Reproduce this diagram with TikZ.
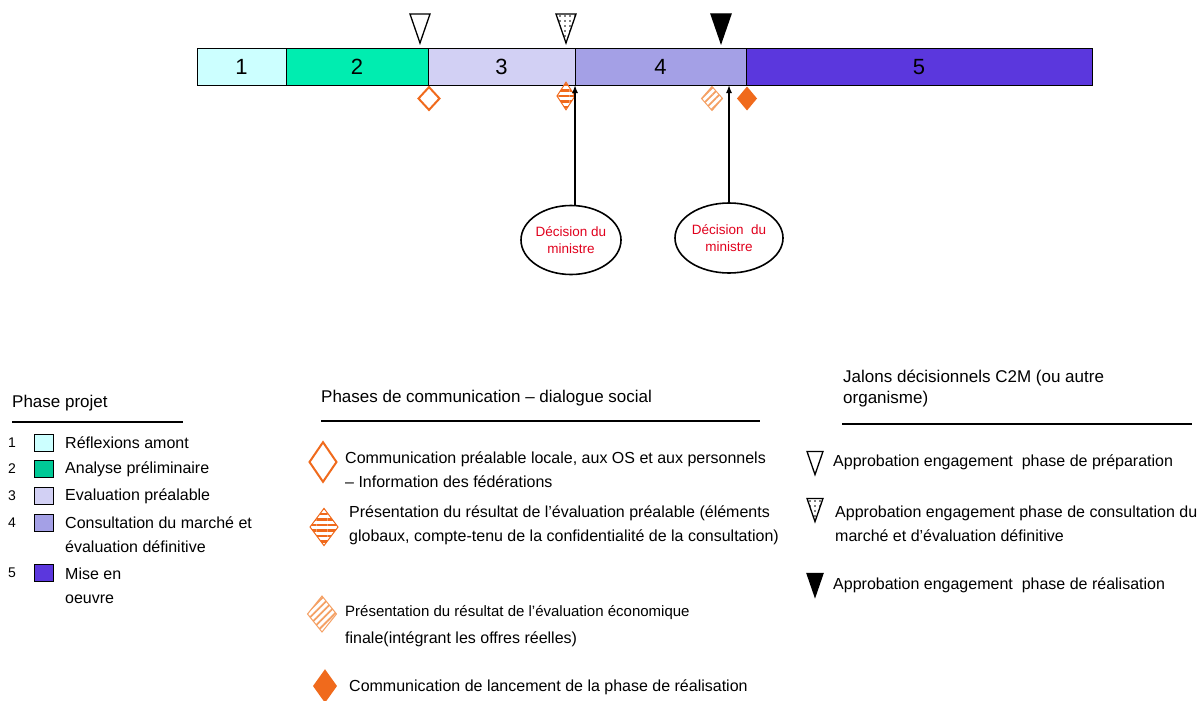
\documentclass[tikz,border=0pt]{standalone}
\usepackage{fontspec}
\setmainfont{Liberation Sans}
\usetikzlibrary{positioning,shapes.geometric,arrows.meta,patterns.meta}
\definecolor{phaseone}{HTML}{CCFFFF}
\definecolor{phasetwo}{HTML}{00EDB0}
\definecolor{phasethree}{HTML}{D2D0F4}
\definecolor{phasefour}{HTML}{A4A0E6}
\definecolor{phasefive}{HTML}{5B37DD}
\definecolor{comorange}{HTML}{F06A1C}
\definecolor{orangeclair}{HTML}{F4A064}
\definecolor{rouge}{HTML}{E0001C}
\begin{document}
\begin{tikzpicture}[x=1pt,y=1pt,
    phase/.style={draw, line width=1pt, minimum height=36, inner sep=0, outer sep=0,
      font=\fontsize{22}{22}\selectfont},
    decision/.style={ellipse, draw, line width=1.6pt, text=rouge, align=center,
      inner sep=0, font=\fontsize{13.5}{17}\selectfont},
    legbox/.style={draw, line width=1pt, minimum width=19, minimum height=17, inner sep=0},
    txt/.style={anchor=west, align=left, inner sep=0, font=\fontsize{16}{24}\selectfont},
    titre/.style={txt, font=\fontsize{17}{21}\selectfont},
    rule/.style={line width=1.5pt},
    fleche/.style={line width=1.5pt, -{Latex[length=8,width=6]}},
    losange/.pic={\path[pic actions] (0,12) -- (10,0) -- (0,-12) -- (-10,0) -- cycle;},
    jalon/.pic={\path[pic actions] (-10,14.5) -- (10,14.5) -- (0,-14.5) -- cycle;},
    vide/.style={draw=comorange, line width=2pt, fill=white},
    raye/.style={draw=comorange, line width=1pt, pattern color=comorange,
      pattern={Lines[angle=0,distance=5.5pt,line width=2.2pt]}},
    hachure/.style={draw=orangeclair, line width=1pt, pattern color=orangeclair,
      pattern={Lines[angle=45,distance=5pt,line width=1.8pt]}},
    plein/.style={fill=comorange},
    jvide/.style={draw, line width=1.3pt, fill=white},
    jpoint/.style={draw, line width=1.3pt,
      pattern={Dots[distance=5pt,radius=0.9pt]}},
    jplein/.style={draw, line width=1.3pt, fill=black}
  ]
  \useasboundingbox (0,0) rectangle (1199,-701);

  % frise des phases
  \node[phase, fill=phaseone, minimum width=89, anchor=west] (p1) at (197,-67) {1};
  \node[phase, fill=phasetwo, minimum width=142, right=0pt of p1] (p2) {2};
  \node[phase, fill=phasethree, minimum width=147, right=0pt of p2] (p3) {3};
  \node[phase, fill=phasefour, minimum width=171, right=0pt of p3] (p4) {4};
  \node[phase, fill=phasefive, minimum width=346, right=0pt of p4] (p5) {5};

  % jalons
  \pic[jvide] at (420,-28.5) {jalon};
  \pic[jpoint] at (566,-28.5) {jalon};
  \pic[jplein] at (721,-28.5) {jalon};

  % communication
  \pic[vide, xscale=1.05, yscale=0.95] at (429,-98.5) {losange};
  \pic[raye, xscale=0.9, yscale=1.15] at (566,-96) {losange};
  \pic[hachure, xscale=1.05] at (712,-98.5) {losange};
  \pic[plein] at (747,-98.5) {losange};

  % decisions
  \node[decision, minimum width=100, minimum height=69] (d1) at (571,-240)
    {D\'ecision du\\ministre};
  \node[decision, minimum width=108, minimum height=70] (d2) at (729,-238)
    {D\'ecision\ \ du\\ministre};
  \draw[fleche] (d1.north -| p4.south west) -- (p4.south west);
  \draw[fleche] (d2) -- (d2 |- p4.south);

  % legende phases
  \node[titre] (tA) at (12,-403) {Phase projet};
  \draw[rule] (12,-422) -- (183,-422);
  \node[txt, font=\fontsize{14}{18}\selectfont] (n1) at (8,-443) {1};
  \node[txt, font=\fontsize{14}{18}\selectfont] (n2) at (8,-469) {2};
  \node[txt, font=\fontsize{14}{18}\selectfont] (n3) at (8,-496) {3};
  \node[txt, font=\fontsize{14}{18}\selectfont] (n4) at (8,-523) {4};
  \node[txt, font=\fontsize{14}{18}\selectfont] (n5) at (8,-573) {5};
  \node[legbox, fill=phaseone] (b1) at (43.5,-443) {};
  \node[legbox, fill=phasetwo!85!black] (b2) at (43.5,-469) {};
  \node[legbox, fill=phasethree] (b3) at (43.5,-496) {};
  \node[legbox, fill=phasefour] (b4) at (43.5,-523) {};
  \node[legbox, fill=phasefive] (b5) at (43.5,-573) {};
  \node[txt] (e1) at (65,-443) {R\'eflexions amont};
  \node[txt] (e2) at (65,-469) {Analyse pr\'eliminaire};
  \node[txt] (e3) at (65,-496) {Evaluation pr\'ealable};
  \node[txt] (e4) at (65,-535) {Consultation du march\'e et\\\'evaluation d\'efinitive};
  \node[txt] (e5) at (65,-585.5) {Mise en\\oeuvre};

  % legende communication
  \node[titre] (tB) at (321,-398) {Phases de communication -- dialogue social};
  \draw[rule] (321,-421) -- (760,-421);
  \pic[vide, xscale=1.35, yscale=1.65] at (323,-462) {losange};
  \pic[raye, xscale=1.4, yscale=1.55] at (324,-527) {losange};
  \pic[hachure, xscale=1.45, yscale=1.5] at (322,-614) {losange};
  \pic[plein, xscale=1.2, yscale=1.4] at (325,-686) {losange};
  \node[txt] (c1) at (345,-470)
    {Communication pr\'ealable locale, aux OS et aux personnels\\-- Information des f\'ed\'erations};
  \node[txt] (c2) at (349,-525.5)
    {Pr\'esentation du r\'esultat de l'\'evaluation pr\'ealable (\'el\'ements\\globaux, compte-tenu de la confidentialit\'e de la consultation)};
  \node[txt] (c3) at (345,-626.5)
    {{\fontsize{15}{27}\selectfont Pr\'esentation du r\'esultat de l'\'evaluation \'economique}\\[3pt]finale(int\'egrant les offres r\'eelles)};
  \node[txt] (c4) at (349,-687) {Communication de lancement de la phase de r\'ealisation};

  % legende jalons
  \node[titre] (tC) at (843,-388.5) {Jalons d\'ecisionnels C2M (ou autre\\organisme)};
  \draw[rule] (842,-424) -- (1192,-424);
  \pic[jvide, scale=0.8] at (815,-463) {jalon};
  \pic[jpoint, scale=0.8] at (815,-510) {jalon};
  \pic[jplein, scale=0.8] at (815,-585) {jalon};
  \node[txt] (j1) at (833,-462) {Approbation engagement\ \ phase de pr\'eparation};
  \node[txt] (j2) at (835,-523.5)
    {Approbation engagement phase de consultation du\\march\'e et d'\'evaluation d\'efinitive};
  \node[txt] (j3) at (833,-585) {Approbation engagement\ \ phase de r\'ealisation};
\end{tikzpicture}
\end{document}
